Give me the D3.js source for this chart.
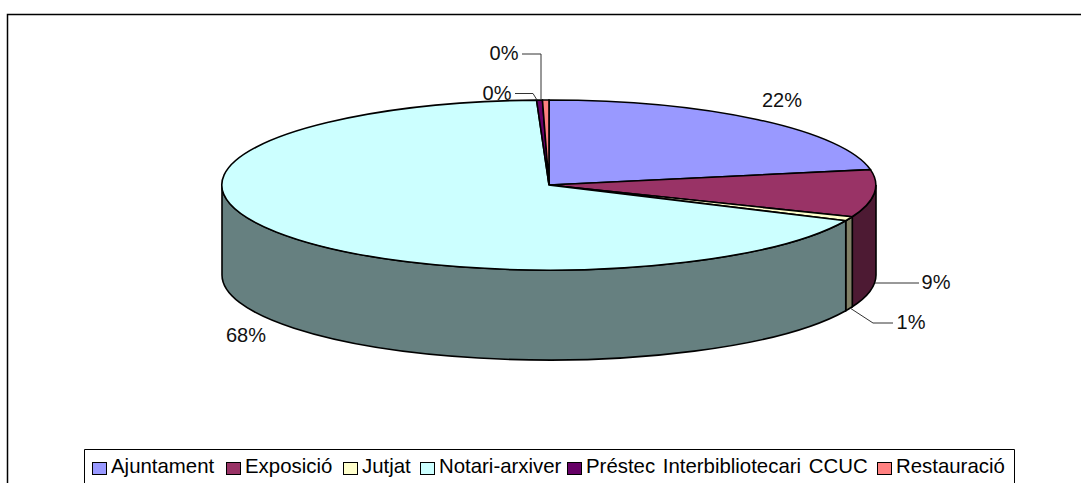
<!DOCTYPE html>
<html>
<head>
<meta charset="utf-8">
<script src="https://cdnjs.cloudflare.com/ajax/libs/d3/7.8.5/d3.min.js"></script>
<style>
  html, body { margin: 0; padding: 0; background: #fff; overflow: hidden; }
  text { font-family: "Liberation Sans", Arial, sans-serif; fill: #111; }
</style>
</head>
<body>
<div id="chart"></div>
<script>
const width = 1081, height = 483;

// values (percent)
const categories = ["Ajuntament", "Exposició", "Jutjat", "Notari-arxiver", "Préstec Interbibliotecari CCUC", "Restauració"];
const values = [22.1, 9.0, 0.8, 67.5, 0.28, 0.32];
const topColors = ["#9999FF", "#993366", "#FFFFCC", "#CCFFFF", "#660066", "#FF8080"];

const cx = 549, cy = 185, rx = 327, ry = 85, depth = 90;

const svg = d3.select("#chart").append("svg")
    .attr("width", width)
    .attr("height", height);

// outer frame, cut off by the right and bottom edges of the picture
svg.append("path")
    .attr("d", "M7.5,490V14.5H1090")
    .attr("fill", "none")
    .attr("stroke", "#000")
    .attr("stroke-width", 1.5);

const arcs = d3.pie().sort(null)(values);
const arcGen = d3.arc().innerRadius(0).outerRadius(1);

// point on the top ellipse, angle clockwise from 12 o'clock
const px = a => cx + rx * Math.sin(a);
const py = a => cy - ry * Math.cos(a);

// side walls, only the front half of the cake shows
const side = svg.append("g");
arcs.forEach((d, i) => {
  const a0 = Math.max(d.startAngle, Math.PI / 2);
  const a1 = Math.min(d.endAngle, Math.PI * 3 / 2);
  if (a1 <= a0) return;
  side.append("path")
      .attr("d", `M${px(a0)},${py(a0)}A${rx},${ry} 0 0 1 ${px(a1)},${py(a1)}` +
                 `V${py(a1) + depth}A${rx},${ry} 0 0 0 ${px(a0)},${py(a0) + depth}Z`)
      .attr("fill", d3.interpolateRgb(topColors[i], "#000")(0.5))
      .attr("stroke", "#000")
      .attr("stroke-width", 1.6);
});

// top face: unit arc squashed into an ellipse
svg.append("g")
    .attr("transform", `translate(${cx},${cy}) scale(${rx},${ry})`)
    .selectAll("path")
    .data(arcs)
    .join("path")
    .attr("d", arcGen)
    .attr("fill", (d, i) => topColors[i])
    .attr("stroke", "#000")
    .attr("stroke-width", 1.6)
    .attr("vector-effect", "non-scaling-stroke");

// data labels, placed by hand like the original
const labelPos = [
  { x: 782, y: 107 },
  { x: 936, y: 289 },
  { x: 911, y: 329 },
  { x: 246, y: 342 },
  { x: 497, y: 100 },
  { x: 504, y: 60 }
];
svg.append("g").selectAll("text")
    .data(arcs)
    .join("text")
    .attr("x", (d, i) => labelPos[i].x)
    .attr("y", (d, i) => labelPos[i].y)
    .attr("text-anchor", "middle")
    .style("font-size", "20px")
    .text(d => Math.round(d.value) + "%");

// leader lines
const leaders = [
  "M919,283H875",
  "M893,323H873L850,308",
  "M515,93.5H533L537,100",
  "M522,54H541V100"
];
svg.append("g").selectAll("path")
    .data(leaders)
    .join("path")
    .attr("d", d => d)
    .attr("fill", "none")
    .attr("stroke", "#333");

// legend, cut by the bottom edge
svg.append("path")
    .attr("d", "M84.5,490V449.5H1014.5V490")
    .attr("fill", "#fff")
    .attr("stroke", "#000");

const legendX = [92, 226, 343, 420, 567, 877];
const legend = svg.append("g").selectAll("g")
    .data(categories)
    .join("g")
    .attr("transform", (d, i) => `translate(${legendX[i]},0)`);
legend.append("rect")
    .attr("x", 0.5).attr("y", 462.5)
    .attr("width", 14).attr("height", 12)
    .attr("fill", (d, i) => topColors[i])
    .attr("stroke", "#000");
legend.append("text")
    .attr("x", 19)
    .attr("y", 473)
    .style("font-size", "20.4px")
    .style("word-spacing", "2px")
    .style("fill", "#000")
    .text(d => d);
</script>
</body>
</html>
